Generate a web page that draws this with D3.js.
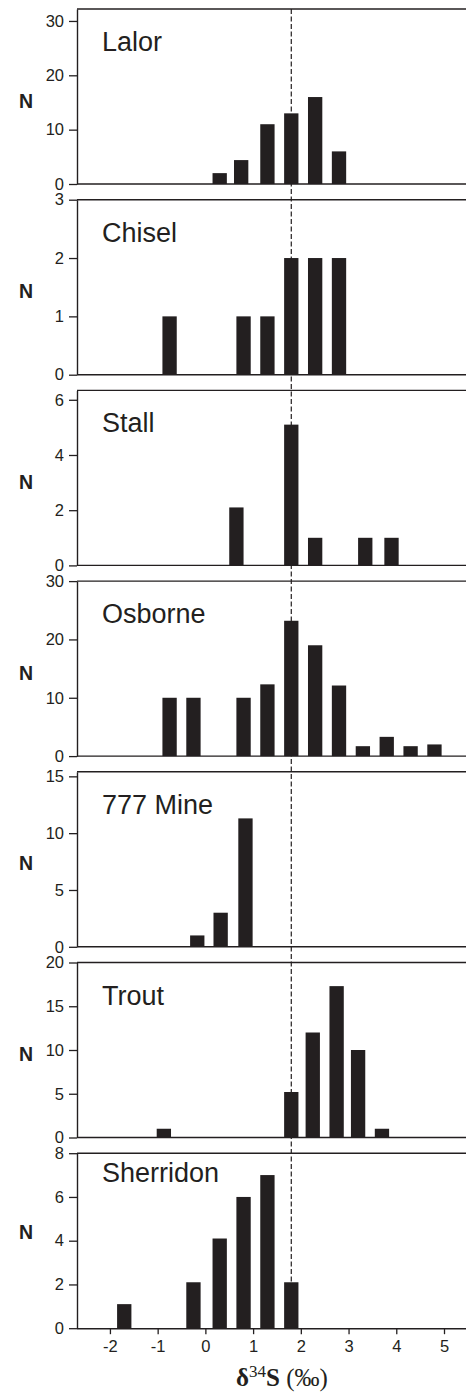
<!DOCTYPE html>
<html>
<head>
<meta charset="utf-8">
<script src="https://cdn.jsdelivr.net/npm/d3@7"></script>
<style>
  html, body { margin: 0; padding: 0; background: #fff; }
  svg { display: block; }
</style>
</head>
<body>
<div id="chart"></div>
<script>
// δ34S histograms for seven deposits, one panel per deposit.
const mineNames = ["Lalor", "Chisel", "Stall", "Osborne", "777 Mine", "Trout", "Sherridon"];

// bar centres (‰) and counts per deposit
const lalorBins = [0.3, 0.75, 1.3, 1.8, 2.3, 2.8];
const lalorCounts = [2, 4.4, 11, 13, 16, 6];

const chiselBins = [-0.75, 0.8, 1.3, 1.8, 2.3, 2.8];
const chiselCounts = [1, 1, 1, 2, 2, 2];

const stallBins = [0.65, 1.8, 2.3, 3.35, 3.9];
const stallCounts = [2.1, 5.1, 1, 1, 1];

const osborneBins = [-0.75, -0.25, 0.8, 1.3, 1.8, 2.3, 2.8, 3.3, 3.8, 4.3, 4.8];
const osborneCounts = [10, 10, 10, 12.3, 23.2, 19, 12.1, 1.7, 3.3, 1.7, 2];

const mine777Bins = [-0.17, 0.32, 0.84];
const mine777Counts = [1, 3, 11.3];

const troutBins = [-0.87, 1.8, 2.25, 2.75, 3.2, 3.7];
const troutCounts = [1, 5.2, 12, 17.3, 10, 1];

const sherridonBins = [-1.7, -0.25, 0.3, 0.8, 1.3, 1.8];
const sherridonCounts = [1.1, 2.1, 4.1, 6, 7, 2.1];

// y-axis extent and tick labels per panel
const yMaxima = [32.2, 3, 6.34, 30, 15.4, 20, 8];
const lalorTicks = [0, 10, 20, 30];
const chiselTicks = [0, 1, 2, 3];
const stallTicks = [0, 2, 4, 6];
const osborneTicks = [0, 10, 20, 30];
const mine777Ticks = [0, 5, 10, 15];
const troutTicks = [0, 5, 10, 15, 20];
const sherridonTicks = [0, 2, 4, 6, 8];

// x axis
const xTicks = [-2, -1, 0, 1, 2, 3, 4, 5];
const xDomain = [-2.69, 5.44];
const referenceValue = 1.8;

const panels = mineNames.map((name, i) => ({
  name,
  bins: [lalorBins, chiselBins, stallBins, osborneBins, mine777Bins, troutBins, sherridonBins][i],
  counts: [lalorCounts, chiselCounts, stallCounts, osborneCounts, mine777Counts, troutCounts, sherridonCounts][i],
  yMax: yMaxima[i],
  ticks: [lalorTicks, chiselTicks, stallTicks, osborneTicks, mine777Ticks, troutTicks, sherridonTicks][i]
}));

// layout
const W = 466, H = 1393;
const left = 77, right = 465;
const firstTop = 9, panelStep = 190.7, panelH = 175;
const labelShift = [0, 0, 0, 0, 0, 0, -13];   // vertical nudge of name and N label
const barWidth = 0.3;                          // ‰
const ink = "#231f20";
const sans = "'Liberation Sans', Arial, sans-serif";

const svg = d3.select("#chart").append("svg")
  .attr("width", W).attr("height", H)
  .style("font-family", sans);

const x = d3.scaleLinear().domain(xDomain).range([left, right]);

const lastBottom = firstTop + (panels.length - 1) * panelStep + panelH;

// dashed reference line across all panels
svg.append("line")
  .attr("x1", x(referenceValue)).attr("x2", x(referenceValue))
  .attr("y1", firstTop).attr("y2", lastBottom)
  .attr("stroke", ink).attr("stroke-width", 1.2)
  .attr("stroke-dasharray", "5,2.5");

panels.forEach((p, i) => {
  const top = firstTop + i * panelStep;
  const bottom = top + panelH;
  const y = d3.scaleLinear().domain([0, p.yMax]).range([bottom, top]);
  const g = svg.append("g");

  // bars
  g.selectAll("rect").data(p.bins.map((b, j) => ({ b, n: p.counts[j] })))
    .join("rect")
    .attr("x", d => x(d.b - barWidth / 2))
    .attr("width", d => x(d.b + barWidth / 2) - x(d.b - barWidth / 2))
    .attr("y", d => y(d.n))
    .attr("height", d => y(0) - y(d.n))
    .attr("fill", ink);

  // frame: top and bottom lines
  g.append("line")
    .attr("x1", left).attr("x2", W).attr("y1", top).attr("y2", top)
    .attr("stroke", ink).attr("stroke-width", 1.4);
  if (i < panels.length - 1) {
    g.append("line")
      .attr("x1", left).attr("x2", W).attr("y1", bottom).attr("y2", bottom)
      .attr("stroke", ink).attr("stroke-width", 1.4);
  }

  // y axis
  const ya = g.append("g")
    .attr("transform", `translate(${left},0)`)
    .call(d3.axisLeft(y).tickValues(p.ticks).tickSize(8).tickPadding(5)
      .tickSizeOuter(0).tickFormat(d3.format("d")));
  ya.select(".domain").attr("stroke", ink).attr("stroke-width", 1.4);
  ya.selectAll(".tick line").attr("stroke", ink).attr("stroke-width", 1.3);
  ya.selectAll(".tick text")
    .attr("fill", ink)
    .style("font-size", "16.5px")
    .style("font-family", sans);

  // N label
  g.append("text")
    .attr("x", 26).attr("y", (top + bottom) / 2 + 11 + labelShift[i])
    .attr("text-anchor", "middle")
    .attr("fill", ink)
    .style("font-size", "19.5px").style("font-weight", "bold")
    .text("N");

  // deposit name
  g.append("text")
    .attr("x", 102).attr("y", top + 42 + labelShift[i])
    .attr("fill", ink)
    .style("font-size", "27px")
    .text(p.name);

  // x axis on the last panel only
  if (i === panels.length - 1) {
    const xa = g.append("g")
      .attr("transform", `translate(0,${bottom})`)
      .call(d3.axisBottom(x).tickValues(xTicks).tickSize(6).tickPadding(6).tickSizeOuter(0)
        .tickFormat(d => d < 0 ? "-" + Math.abs(d) : String(d)));
    xa.select(".domain").attr("stroke", ink).attr("stroke-width", 1.4)
      .attr("d", `M${left},0.5H${W}`);
    xa.selectAll(".tick line").attr("stroke", ink).attr("stroke-width", 1.3);
    xa.selectAll(".tick text")
      .attr("fill", ink)
      .style("font-size", "16.5px")
      .style("font-family", sans);
  }
});

// x-axis title: δ34S (‰)
const title = svg.append("text")
  .attr("x", 282).attr("y", 1386)
  .attr("text-anchor", "middle")
  .attr("fill", ink)
  .style("font-family", "'Liberation Serif', 'Times New Roman', serif")
  .style("font-size", "25px");
title.append("tspan").style("font-weight", "bold").text("δ");
title.append("tspan").attr("dy", -9).style("font-size", "17px").text("34");
title.append("tspan").attr("dy", 9).style("font-weight", "bold").text("S");
title.append("tspan").text(" (‰)");
</script>
</body>
</html>
